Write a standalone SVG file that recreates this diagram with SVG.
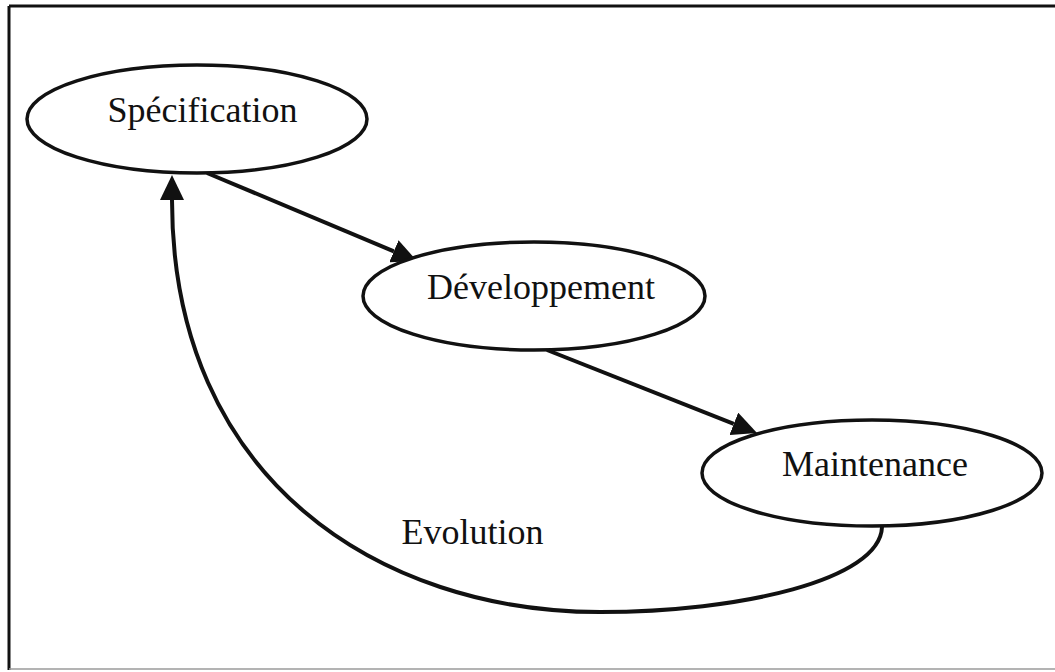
<svg xmlns="http://www.w3.org/2000/svg" width="1055" height="672" viewBox="0 0 1055 672">
  <style>
    .node ellipse { fill: #ffffff; stroke: #111111; stroke-width: 3.5; }
    .label { font-family: "Liberation Serif", "Times New Roman", serif; font-size: 36px; fill: #111111; text-anchor: middle; }
    .edge { fill: none; stroke: #111111; stroke-width: 4; }
  </style>
  <defs>
    <marker id="arrow" viewBox="0 0 25 24" refX="0" refY="12" markerWidth="25" markerHeight="24" markerUnits="userSpaceOnUse" orient="auto">
      <path d="M0,0 L25,12 L0,24 Z" fill="#111111"/>
    </marker>
  </defs>
  <rect x="0" y="0" width="1055" height="672" fill="#ffffff"/>
  <g id="frame">
    <line x1="9" y1="6" x2="1055" y2="6" stroke="#111111" stroke-width="3"/>
    <line x1="9" y1="6" x2="9" y2="670" stroke="#111111" stroke-width="3"/>
    <line x1="9" y1="669" x2="1055" y2="669" stroke="#9a9a9a" stroke-width="1.5"/>
  </g>
  <g id="connectors">
    <line class="edge" x1="207" y1="173" x2="393.9" y2="251.3" marker-end="url(#arrow)"/>
    <line class="edge" x1="547" y1="350" x2="733.8" y2="423.8" marker-end="url(#arrow)"/>
    <path class="edge" d="M 882 527 C 880 580, 740 612, 600 612 C 380 612, 172 480, 172 200" marker-end="url(#arrow)"/>
    <text class="label" x="472.5" y="544">Evolution</text>
  </g>
  <g id="specification" class="node">
    <ellipse cx="197" cy="119" rx="170" ry="54"/>
    <text class="label" x="202.5" y="122">Spécification</text>
  </g>
  <g id="developpement" class="node">
    <ellipse cx="534" cy="296" rx="171" ry="54"/>
    <text class="label" x="541" y="299">Développement</text>
  </g>
  <g id="maintenance" class="node">
    <ellipse cx="872" cy="473" rx="170" ry="53"/>
    <text class="label" x="875" y="476">Maintenance</text>
  </g>
</svg>
